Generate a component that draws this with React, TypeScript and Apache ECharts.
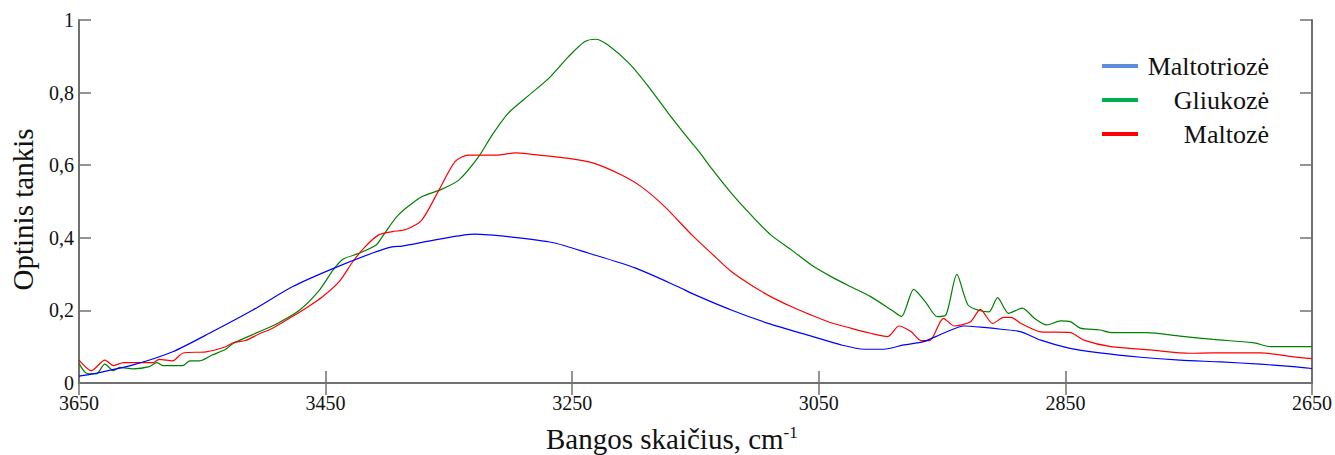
import React, { useEffect, useRef } from "react";
import * as echarts from "echarts";

const FONT = "Liberation Serif";
const TICK_FONT = "Times New Roman";

const maltotriozeX = [3650, 3639, 3606, 3574, 3542, 3509, 3477, 3447, 3412, 3396, 3388, 3360, 3329, 3299, 3266, 3237, 3199, 3164, 3153, 3121, 3089, 3056, 3032, 3013, 2997, 2981, 2965, 2949, 2932, 2916, 2902, 2886, 2870, 2848, 2822, 2789, 2757, 2724, 2692, 2665, 2650];
const maltotriozeY = [0.019, 0.025, 0.050, 0.086, 0.141, 0.201, 0.265, 0.311, 0.358, 0.375, 0.377, 0.395, 0.410, 0.402, 0.387, 0.358, 0.317, 0.265, 0.247, 0.201, 0.162, 0.129, 0.105, 0.093, 0.093, 0.105, 0.114, 0.137, 0.157, 0.153, 0.148, 0.141, 0.118, 0.097, 0.083, 0.071, 0.063, 0.058, 0.052, 0.045, 0.040];

const gliukozeX = [3650, 3644, 3636, 3629, 3622, 3617, 3606, 3593, 3587, 3582, 3566, 3560, 3552, 3542, 3531, 3525, 3504, 3488, 3471, 3455, 3444, 3436, 3423, 3409, 3404, 3391, 3372, 3357, 3342, 3326, 3315, 3302, 3285, 3269, 3253, 3240, 3231, 3221, 3204, 3188, 3172, 3156, 3145, 3137, 3121, 3105, 3089, 3072, 3056, 3040, 3024, 3008, 2991, 2983, 2973, 2963, 2954, 2947, 2938, 2929, 2919, 2912, 2905, 2896, 2885, 2875, 2865, 2854, 2846, 2838, 2822, 2813, 2784, 2757, 2730, 2698, 2683, 2650];
const gliukozeY = [0.054, 0.027, 0.025, 0.052, 0.034, 0.043, 0.039, 0.045, 0.056, 0.048, 0.048, 0.061, 0.061, 0.077, 0.093, 0.109, 0.141, 0.166, 0.201, 0.256, 0.311, 0.341, 0.357, 0.380, 0.403, 0.463, 0.513, 0.532, 0.559, 0.623, 0.683, 0.743, 0.793, 0.839, 0.899, 0.940, 0.947, 0.931, 0.881, 0.816, 0.743, 0.674, 0.628, 0.591, 0.523, 0.463, 0.408, 0.366, 0.325, 0.293, 0.265, 0.238, 0.201, 0.183, 0.258, 0.221, 0.183, 0.187, 0.299, 0.215, 0.199, 0.196, 0.235, 0.192, 0.206, 0.178, 0.160, 0.171, 0.169, 0.151, 0.146, 0.139, 0.139, 0.129, 0.120, 0.111, 0.100, 0.100];

const maltozeX = [3650, 3640, 3629, 3622, 3614, 3590, 3585, 3574, 3566, 3547, 3531, 3525, 3515, 3504, 3493, 3477, 3466, 3453, 3439, 3428, 3418, 3407, 3396, 3385, 3372, 3358, 3345, 3334, 3310, 3296, 3283, 3253, 3232, 3210, 3194, 3175, 3153, 3137, 3121, 3105, 3089, 3072, 3056, 3040, 3024, 3008, 2994, 2985, 2975, 2967, 2960, 2949, 2940, 2927, 2919, 2909, 2900, 2894, 2886, 2870, 2846, 2835, 2813, 2781, 2749, 2730, 2692, 2665, 2650];
const maltozeY = [0.063, 0.034, 0.063, 0.048, 0.056, 0.056, 0.065, 0.061, 0.082, 0.086, 0.100, 0.111, 0.117, 0.135, 0.151, 0.183, 0.206, 0.236, 0.279, 0.334, 0.375, 0.408, 0.417, 0.423, 0.449, 0.532, 0.610, 0.628, 0.628, 0.634, 0.630, 0.619, 0.605, 0.573, 0.541, 0.486, 0.408, 0.357, 0.307, 0.270, 0.238, 0.210, 0.187, 0.166, 0.151, 0.137, 0.128, 0.157, 0.141, 0.117, 0.117, 0.178, 0.157, 0.169, 0.203, 0.164, 0.181, 0.181, 0.164, 0.141, 0.139, 0.118, 0.100, 0.091, 0.082, 0.083, 0.083, 0.072, 0.067];

const seriesNames = ["Maltotriozė", "Gliukozė", "Maltozė"];
const lineColors = ["#0000ff", "#008000", "#ff0000"];
const legendColors = ["#5b8fd9", "#00b050", "#ff0000"];
const xTicks = { min: 2650, max: 3650, interval: 200 };
const yTicks = { min: 0, max: 1, interval: 0.2 };
const xTitle = "Bangos skaičius, cm";
const xTitleSup = "-1";
const yTitle = "Optinis tankis";

const zip = (xs: number[], ys: number[]) => xs.map((x, i) => [x, ys[i]]);

export default function App() {
  const ref = useRef<HTMLDivElement>(null);
  useEffect(() => {
    if (!ref.current) return;
    const chart = echarts.init(ref.current, undefined, { renderer: "svg" });
    const axisColor = "#707070";
    const datasets = [
      zip(maltotriozeX, maltotriozeY),
      zip(gliukozeX, gliukozeY),
      zip(maltozeX, maltozeY),
    ];
    const tickRich = { v: { fontFamily: TICK_FONT, fontSize: 20, fontWeight: "normal", color: "#111" } };
    const fmtY = (v: number) => `{v|${String(Math.round(v * 10) / 10).replace(".", ",")}}`;
    const fmtX = (v: number) => `{v|${Math.round(v)}}`;
    chart.setOption({
      animation: false,
      backgroundColor: "#ffffff",
      textStyle: { fontFamily: FONT },
      grid: { left: 76, right: 23, top: 20, bottom: 72, containLabel: false },
      legend: {
        orient: "vertical",
        left: 1097,
        top: 48,
        icon: "rect",
        itemWidth: 36,
        itemHeight: 4,
        itemGap: 8,
        data: seriesNames.map((n, i) => ({ name: n, itemStyle: { color: legendColors[i] } })),
        formatter: (name: string) => `{t|${name}}`,
        textStyle: {
          fontFamily: FONT,
          fontSize: 26,
          color: "#111",
          rich: { t: { width: 126, align: "right", fontFamily: FONT, fontSize: 26, color: "#111" } },
        },
      },
      graphic: [
        {
          type: "text",
          left: 546,
          top: 424,
          style: {
            text: `{m|${xTitle}}{sup|${xTitleSup}}`,
            fontFamily: FONT,
            fontSize: 29,
            fill: "#111",
            rich: {
              m: { fontFamily: FONT, fontSize: 29, fill: "#111", color: "#111" },
              sup: { fontFamily: FONT, fontSize: 17, verticalAlign: "top", fill: "#111", color: "#111" },
            },
          },
        },
      ],
      xAxis: [
        {
          type: "value",
          inverse: true,
          min: xTicks.min,
          max: xTicks.max,
          interval: xTicks.interval,
          position: "bottom",
          axisLine: { show: true, lineStyle: { color: axisColor, width: 2 } },
          axisTick: { show: true, inside: true, length: 12, lineStyle: { color: axisColor, width: 1.5 } },
          axisLabel: { fontFamily: TICK_FONT, fontSize: 20, color: "#111", margin: 10, formatter: fmtX, rich: tickRich },
          splitLine: { show: false },
        },
        {
          type: "value",
          inverse: true,
          min: xTicks.min,
          max: xTicks.max,
          interval: xTicks.interval,
          position: "top",
          axisLine: { show: true, lineStyle: { color: axisColor, width: 2 } },
          axisTick: { show: true, inside: true, length: 12, lineStyle: { color: axisColor, width: 1.5 } },
          axisLabel: { show: false },
          splitLine: { show: false },
        },
      ],
      yAxis: [
        {
          type: "value",
          min: yTicks.min,
          max: yTicks.max,
          interval: yTicks.interval,
          position: "left",
          name: yTitle,
          nameLocation: "middle",
          nameRotate: 90,
          nameGap: 42,
          nameTextStyle: { fontFamily: FONT, fontSize: 29, color: "#111", padding: [0, 16, 0, 0] },
          axisLine: { show: true, lineStyle: { color: axisColor, width: 2 } },
          axisTick: { show: true, inside: true, length: 12, lineStyle: { color: axisColor, width: 1.5 } },
          axisLabel: { fontFamily: TICK_FONT, fontSize: 20, color: "#111", margin: 5, formatter: fmtY, rich: tickRich },
          splitLine: { show: false },
        },
        {
          type: "value",
          min: yTicks.min,
          max: yTicks.max,
          interval: yTicks.interval,
          position: "right",
          axisLine: { show: true, lineStyle: { color: axisColor, width: 2 } },
          axisTick: { show: true, inside: true, length: 12, lineStyle: { color: axisColor, width: 1.5 } },
          axisLabel: { show: false },
          splitLine: { show: false },
        },
      ],
      series: seriesNames.map((n, i) => ({
        name: n,
        type: "line",
        data: datasets[i],
        showSymbol: false,
        smooth: 0.25,
        lineStyle: { color: lineColors[i], width: 1.2 },
        itemStyle: { color: lineColors[i] },
        z: i === 0 ? 3 : 2,
      })),
    });
    return () => chart.dispose();
  }, []);
  return (
    <div
      ref={ref}
      style={{ position: "fixed", left: 0, top: 0, width: 1335, height: 455, background: "#fff" }}
    />
  );
}
